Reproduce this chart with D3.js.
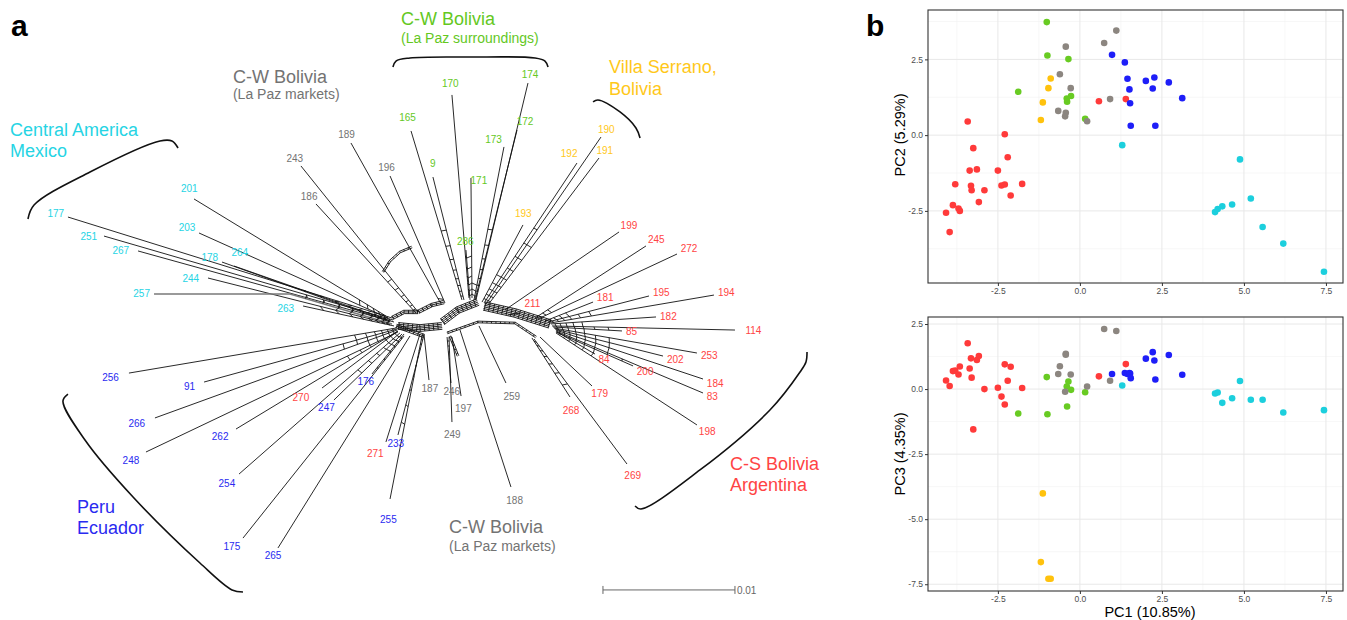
<!DOCTYPE html>
<html>
<head>
<meta charset="utf-8">
<script src="https://cdn.jsdelivr.net/npm/d3@7"></script>
<style>
  body { margin: 0; background: #fff; }
  svg { display: block; font-family: "Liberation Sans", Arial, sans-serif; }
</style>
</head>
<body>
<svg id="fig" width="1347" height="620"></svg>
<script>
// ---------- panel a: splits network ----------
// coordinates in units of 1e-4 substitutions/site (100 units = the 0.01 scale bar)

const groupColor = { CAM: '#26d4e4', LPM: '#737373', LPS: '#64c81e', VS: '#ffc81a', CSB: '#ff4444', PE: '#2a2af0' };

// label, group, tipX, tipY, baseX, baseY
const leaves = [
  ['177', 'CAM', -297.0, -78.0, -51.5, -1.5],
  ['251', 'CAM', -269.7, -63.6, -50.8, 0],
  ['267', 'CAM', -243.9, -52.3, -50.0, 1.5],
  ['201', 'CAM', -201.5, -91.7, -56.1, -3.0],
  ['203', 'CAM', -197.7, -65.9, -54.5, -1.5],
  ['178', 'CAM', -180.3, -43.9, -53.0, 1.5],
  ['264', 'CAM', -171.2, -40.9, -54.5, 0],
  ['244', 'CAM', -190.9, -31.8, -53.0, 3.0],
  ['257', 'CAM', -231.8, -19.7, -51.5, 3.0],
  ['263', 'CAM', -118.9, -10.6, -50.0, 4.5],
  ['243', 'LPM', -120.5, -116.7, -31.8, -6.1],
  ['186', 'LPM', -109.1, -87.9, -33.3, -5.3],
  ['189', 'LPM', -82.6, -134.1, -15.2, -13.6],
  ['196', 'LPM', -53.0, -109.1, -11.4, -12.9],
  ['165', 'LPS', -37.1, -143.2, 1.5, -15.2],
  ['9',   'LPS', -20.5, -108.3, 3.0, -15.2],
  ['170', 'LPS', -6.1, -170.5, 6.8, -16.7],
  ['171', 'LPS', 8.3, -107.6, 9.1, -16.7],
  ['286', 'LPS', 4.5, -53.0, 7.6, -15.2],
  ['173', 'LPS', 33.3, -131.1, 10.6, -15.2],
  ['172', 'LPS', 43.2, -143.9, 11.4, -15.2],
  ['174', 'LPS', 51.5, -179.5, 12.1, -15.2],
  ['193', 'VS', 47.7, -72.0, 16.7, -13.6],
  ['192', 'VS', 88.6, -118.9, 18.2, -12.9],
  ['190', 'VS', 106.8, -138.6, 19.7, -12.1],
  ['191', 'VS', 105.3, -122.7, 21.2, -11.4],
  ['199', 'CSB', 120.5, -66.7, 34.1, -7.6],
  ['211', 'CSB', 45.5, -5.3, 36.4, -3.8],
  ['245', 'CSB', 140.9, -56.1, 56.8, -1.5],
  ['272', 'CSB', 164.4, -50.0, 59.1, -0.8],
  ['181', 'CSB', 100.8, -13.6, 64.4, 0.8],
  ['195', 'CSB', 143.2, -18.2, 66.7, 1.5],
  ['194', 'CSB', 192.4, -18.9, 68.2, 2.3],
  ['182', 'CSB', 148.5, -2.3, 68.9, 3.0],
  ['114', 'CSB', 208.3, 7.6, 69.7, 4.5],
  ['85',  'CSB', 122.7, 8.3, 70.5, 5.3],
  ['253', 'CSB', 179.5, 25.0, 71.2, 6.1],
  ['202', 'CSB', 153.8, 27.3, 72.0, 6.8],
  ['184', 'CSB', 184.1, 44.7, 72.7, 7.6],
  ['83',  'CSB', 184.1, 55.3, 72.7, 8.3],
  ['200', 'CSB', 131.1, 34.8, 72.7, 9.1],
  ['84',  'CSB', 102.3, 25.8, 73.5, 9.1],
  ['198', 'CSB', 179.5, 79.5, 72.7, 9.8],
  ['179', 'CSB', 100.0, 50.0, 60.6, 12.9],
  ['268', 'CSB', 83.3, 58.3, 54.5, 13.6],
  ['269', 'CSB', 126.5, 109.1, 56.1, 14.4],
  ['270', 'CSB', -104.5, 51.5, -47.0, 8.3],
  ['271', 'CSB', -56.1, 92.4, -30.3, 10.6],
  ['187', 'LPM', -23.5, 45.5, -27.3, 10.6],
  ['246', 'LPM', -6.8, 47.7, -9.8, 12.9],
  ['197', 'LPM', 0.8, 57.6, -6.1, 12.9],
  ['249', 'LPM', -6.1, 77.3, -8.3, 12.9],
  ['259', 'LPM', 34.8, 47.7, 14.4, 4.5],
  ['188', 'LPM', 38.6, 126.5, 0, 7.6],
  ['256', 'PE', -250.8, 40.2, -48.5, 6.1],
  ['91',  'PE', -193.9, 47.0, -47.7, 6.8],
  ['266', 'PE', -231.1, 74.2, -47.7, 7.6],
  ['262', 'PE', -169.7, 82.6, -47.0, 8.3],
  ['248', 'PE', -237.9, 100.0, -47.0, 9.1],
  ['254', 'PE', -167.4, 116.7, -45.5, 9.8],
  ['247', 'PE', -95.5, 60.6, -43.9, 10.6],
  ['176', 'PE', -66.7, 40.9, -42.4, 10.6],
  ['175', 'PE', -164.4, 165.2, -42.4, 12.1],
  ['265', 'PE', -137.9, 172.7, -37.9, 12.1],
  ['255', 'PE', -53.0, 135.6, -28.8, 12.1],
  ['233', 'PE', -47.0, 87.1, -27.3, 11.4]
];

// bend points on a few pendant edges
const leafVia = { '257': [-128.8, -19.7] };

// reticulate core: polylines drawn as bundles of parallel splits
const coreWebs = [
  { pts: [[-47.0, 4.5], [-30.3, 6.1], [-13.6, 4.5]], n: 5 },
  { pts: [[-13.6, 1.5], [-1.5, -7.6], [13.6, -13.6]], n: 5 },
  { pts: [[18.2, -10.6], [41.7, -5.3], [68.2, 3.0]], n: 6 },
  { pts: [[-9.8, 9.8], [13.6, 1.5], [41.7, 2.3], [57.6, 12.9]], n: 2 },
  { pts: [[-31.8, -6.1], [-21.2, -11.4], [-12.1, -13.6]], n: 3 },
  { pts: [[-58.3, -36.4], [-53.0, -44.7], [-45.5, -51.5], [-36.4, -55.3]], n: 2 },
  { pts: [[-51.5, -1.5], [-42.4, -6.1], [-31.8, -6.1]], n: 3 },
  { pts: [[-48.5, 4.5], [-27.3, 12.1]], n: 3 },
  { pts: [[-7.6, 12.1], [-1.5, 27.3]], n: 2 }
];

// group brackets and titles
const brackets = [
  [[-327.3, -76.5], [-322.7, -87.1], [-280.3, -112.1], [-227.3, -135.6], [-218.2, -135.6], [-213.6, -130.3]],
  [[-50.8, -191.7], [-48.5, -196.2], [-37.9, -198.5], [7.6, -199.2], [56.8, -198.5], [64.4, -196.2], [66.7, -191.7]],
  [[100.8, -165.2], [104.5, -166.7], [121.2, -157.6], [133.3, -145.5], [136.4, -137.9]],
  [[132.6, 140.9], [137.1, 143.2], [181.8, 113.6], [234.8, 68.2], [257.6, 39.4], [262.1, 31.8], [262.9, 24.2]],
  [[-297.0, 56.1], [-300.8, 61.4], [-284.1, 90.9], [-247.7, 134.1], [-197.0, 184.1], [-172.7, 204.5], [-164.4, 206.1]]
];

// group, title, subtitle, x, titleY, subtitleY
const groupTitles = [
  ['CAM', 'Central America', 'Mexico', -340.9, -139.4, -123.5],
  ['LPM', 'C-W Bolivia', '(La Paz markets)', -172.0, -179.5, -167.4],
  ['LPS', 'C-W Bolivia', '(La Paz surroundings)', -44.7, -223.5, -209.9],
  ['VS', 'Villa Serrano,', 'Bolivia', 112.9, -187.1, -170.5],
  ['CSB', 'C-S Bolivia', 'Argentina', 204.5, 113.6, 129.5],
  ['PE', 'Peru', 'Ecuador', -290.2, 146.2, 162.1],
  ['LPM', 'C-W Bolivia', '(La Paz markets)', -8.3, 161.4, 175.0]
];
const bigLine = { CAM: true, VS: true, CSB: true, PE: true };

const scaleBar = { x: 108.3, y: 204.5, len: 100, text: '0.01' };

// label placement tweaks (px)
const labelNudge = {
  '211': [0, -7], '270': [-12, 3], '271': [-8, 3], '255': [0, 12], '197': [1, 4], '249': [0, 4],
  '259': [2, 5], '188': [1, 5], '268': [-4, 6], '269': [0, 4], '114': [6, 0], '193': [-4, -3],
  '192': [-13, -2], '172': [6, 0], '173': [-12, 1], '171': [8, 11], '9': [2, -5], '165': [-1, -5],
  '170': [-1, -3], '201': [6, -4], '264': [18, -9], '244': [-5, 4], '263': [-5, 5], '251': [-3, 4],
  '267': [-5, 3], '256': [-6, 2], '91': [-5, 2], '266': [-6, 1], '262': [-5, 1], '248': [-3, 3],
  '254': [-4, 2], '175': [-5, 1]
};

// ---------- panel b: PCA (PC1, PC2, PC3) ----------
const pcaCSB = [[-4.08, -2.56, 0.33], [-3.97, -3.20, 0.12], [-3.87, -2.31, 0.69], [-3.80, -1.62, 0.71],
  [-3.70, -2.42, 0.56], [-3.66, -2.50, 0.87], [-3.42, 0.45, 1.76], [-3.36, -1.17, 0.79], [-3.32, -1.67, 1.18],
  [-3.30, -1.82, 0.44], [-3.25, -0.43, -1.55], [-3.14, -1.13, 1.12], [-3.08, -2.21, 1.27], [-2.91, -1.82, 0.0],
  [-2.50, -1.17, 0.05], [-2.39, -1.66, -0.29], [-2.29, 0.03, 0.95], [-2.29, -1.63, -0.59], [-2.20, -0.73, 0.32],
  [-2.11, -1.99, 0.86], [-1.76, -1.61, 0.04], [0.58, 1.12, 0.49], [1.40, 1.19, 0.96]];
const pcaLPS = [[-1.01, 3.73, 0.46], [-0.99, 2.63, -0.97], [-0.35, 2.51, 0.29], [-1.88, 1.43, -0.94],
  [-0.40, 1.21, 0.10], [-0.27, 1.29, -0.03], [-0.39, 1.10, -0.67], [0.16, 0.54, -0.12]];
const pcaLPM = [[-0.43, 2.92, 1.36], [0.74, 3.04, 2.31], [1.11, 3.45, 2.23], [-0.61, 2.01, 0.88],
  [-0.28, 1.55, 0.56], [0.92, 1.19, 0.32], [-0.66, 0.80, 0.58], [-0.43, 0.74, 1.32], [-0.45, 0.62, -0.10],
  [0.22, 0.46, 0.10]];
const pcaVS = [[-0.89, 1.87, -7.29], [-0.96, 1.55, -7.29], [-1.13, 1.08, -4.01], [-1.19, 0.50, -6.65]];
const pcaPE = [[0.98, 2.65, 0.58], [1.37, 2.40, 0.62], [1.45, 1.86, 0.58], [2.01, 1.79, 1.17], [2.27, 1.90, 1.10],
  [2.71, 1.74, 1.31], [1.51, 1.51, 0.62], [2.22, 1.54, 1.42], [3.12, 1.22, 0.55], [1.53, 1.05, 0.60],
  [1.55, 0.31, 0.42], [2.30, 0.31, 0.37]];
const pcaCAM = [[1.29, -0.33, 0.14], [4.88, -0.80, 0.31], [5.21, -2.09, -0.41], [5.57, -3.03, -0.41],
  [6.20, -3.58, -0.90], [7.44, -4.51, -0.81], [4.12, -2.54, -0.17], [4.20, -2.44, -0.13], [4.34, -2.35, -0.53],
  [4.64, -2.29, -0.35]];
const pcaSets = [['CSB', pcaCSB], ['LPS', pcaLPS], ['LPM', pcaLPM], ['VS', pcaVS], ['PE', pcaPE], ['CAM', pcaCAM]];
const pointColor = { CAM: '#1ccfdd', LPM: '#8c8680', LPS: '#68cb22', VS: '#ffc20d', CSB: '#ff3a3a', PE: '#1e1ef8' };

const pcTicks = [-2.5, 0, 2.5, 5, 7.5];
const pc2Ticks = [-2.5, 0, 2.5];
const pc3Ticks = [-7.5, -5, -2.5, 0, 2.5];

// ================= drawing =================
const svg = d3.select('#fig');

const nx = d3.scaleLinear().domain([0, 100]).range([460, 592]);
const ny = d3.scaleLinear().domain([0, 100]).range([320, 452]);
const P = d => [nx(d[0]), ny(d[1])];
const line = d3.line();

const gNet = svg.append('g').attr('fill', 'none').attr('stroke', '#111').attr('stroke-width', 0.9);

function offsetLine(pts, k) {
  return pts.map((p, i) => {
    const a = pts[Math.max(i - 1, 0)], b = pts[Math.min(i + 1, pts.length - 1)];
    const dx = b[0] - a[0], dy = b[1] - a[1], L = Math.hypot(dx, dy) || 1;
    return [p[0] - dy / L * k, p[1] + dx / L * k];
  });
}

function sampleLine(pts, step) {
  const out = [];
  for (let i = 0; i < pts.length - 1; i++) {
    const a = pts[i], b = pts[i + 1];
    const dx = b[0] - a[0], dy = b[1] - a[1], L = Math.hypot(dx, dy);
    for (let s = (i === 0 ? 1 : 0); s < L; s += step) {
      out.push({ p: [a[0] + dx * s / L, a[1] + dy * s / L], n: [-dy / L, dx / L] });
    }
  }
  return out;
}

// core webs
const gap = 1.7;
coreWebs.forEach(w => {
  const pts = w.pts.map(P);
  const half = (w.n - 1) / 2 * gap;
  for (let i = 0; i < w.n; i++) {
    gNet.append('path').attr('d', line(offsetLine(pts, -half + i * gap)));
  }
  sampleLine(pts, 4.5).forEach(s => {
    gNet.append('line')
      .attr('x1', s.p[0] - s.n[0] * half).attr('y1', s.p[1] - s.n[1] * half)
      .attr('x2', s.p[0] + s.n[0] * half).attr('y2', s.p[1] + s.n[1] * half);
  });
});

// pendant edges
const leafGeom = leaves.map(([lab, grp, tx, ty, bx, by]) => {
  const pts = [[tx, ty]];
  if (leafVia[lab]) pts.push(leafVia[lab]);
  pts.push([bx, by]);
  const px = pts.map(P);
  const base = px[px.length - 1], next = px[px.length - 2];
  const dx = next[0] - base[0], dy = next[1] - base[1], L = Math.hypot(dx, dy);
  return { lab, grp, px, base, u: [dx / L, dy / L], len: L, ang: Math.atan2(dy, dx) };
});

leafGeom.forEach(l => {
  gNet.append('path').attr('d', line(l.px))
    .attr('stroke', l.lab === '257' ? '#7a7a7a' : null)
    .attr('stroke-width', l.lab === '257' ? 1.4 : null);
});

// ladder rungs between neighbouring edges of one group (splits look)
const rungDist = [4, 9, 15, 22, 31, 42, 56, 72, 90];
d3.groups(leafGeom, d => d.grp).forEach(([, ls]) => {
  ls.sort((a, b) => a.ang - b.ang);
  for (let i = 0; i < ls.length - 1; i++) {
    const a = ls[i], b = ls[i + 1];
    rungDist.forEach(d => {
      if (d > a.len || d > b.len) return;
      const pa = [a.base[0] + a.u[0] * d, a.base[1] + a.u[1] * d];
      const pb = [b.base[0] + b.u[0] * d, b.base[1] + b.u[1] * d];
      const dist = Math.hypot(pa[0] - pb[0], pa[1] - pb[1]);
      if (dist > 0.8 && dist < 5.5) {
        gNet.append('line').attr('x1', pa[0]).attr('y1', pa[1]).attr('x2', pb[0]).attr('y2', pb[1]);
      }
    });
  }
});

// leaf labels
const gLab = svg.append('g').attr('font-size', 10).attr('text-anchor', 'middle');
leafGeom.forEach(l => {
  const tip = l.px[0], prev = l.px[1];
  let ux = tip[0] - prev[0], uy = tip[1] - prev[1];
  const L = Math.hypot(ux, uy); ux /= L; uy /= L;
  const hw = l.lab.length * 2.8, hh = 4.5;
  const d = Math.min(Math.abs(ux) > 1e-6 ? hw / Math.abs(ux) : 1e9, Math.abs(uy) > 1e-6 ? hh / Math.abs(uy) : 1e9) + 4;
  const nud = labelNudge[l.lab] || [0, 0];
  gLab.append('text')
    .attr('x', tip[0] + ux * d + nud[0])
    .attr('y', tip[1] + uy * d + nud[1])
    .attr('dy', '0.35em')
    .attr('fill', groupColor[l.grp])
    .text(l.lab);
});

// brackets
const curve = d3.line().curve(d3.curveCatmullRom.alpha(0.5));
svg.append('g').attr('fill', 'none').attr('stroke', '#111').attr('stroke-width', 1.6)
  .selectAll('path').data(brackets).join('path')
  .attr('d', b => curve(b.map(P)));

// group titles
const gTitle = svg.append('g');
groupTitles.forEach(([grp, t1, t2, x, y1, y2]) => {
  const big = bigLine[grp];
  gTitle.append('text').attr('x', nx(x)).attr('y', ny(y1))
    .attr('font-size', 18).attr('fill', groupColor[grp]).text(t1);
  gTitle.append('text').attr('x', nx(x)).attr('y', ny(y2))
    .attr('font-size', big ? 18 : 14).attr('fill', groupColor[grp]).text(t2);
});

// scale bar
const sb = svg.append('g').attr('stroke', '#666').attr('stroke-width', 1);
const sbx0 = nx(scaleBar.x), sbx1 = nx(scaleBar.x + scaleBar.len), sby = ny(scaleBar.y);
sb.append('line').attr('x1', sbx0).attr('x2', sbx1).attr('y1', sby).attr('y2', sby);
sb.append('line').attr('x1', sbx0).attr('x2', sbx0).attr('y1', sby - 4).attr('y2', sby + 4);
sb.append('line').attr('x1', sbx1).attr('x2', sbx1).attr('y1', sby - 4).attr('y2', sby + 4);
svg.append('text').attr('x', sbx1 + 2).attr('y', sby + 4).attr('font-size', 10).attr('fill', '#666').text(scaleBar.text);

// panel letters
svg.append('text').attr('x', 11).attr('y', 36).attr('font-size', 30).attr('font-weight', 'bold').text('a');
svg.append('text').attr('x', 866).attr('y', 36).attr('font-size', 30).attr('font-weight', 'bold').text('b');

// ---------- PCA panels ----------
const px1 = d3.scaleLinear().domain([-4.63, 8.02]).range([928, 1343]);
const pxMinor = [-3.75, -1.25, 1.25, 3.75, 6.25];

function pcaPanel(yScale, key, yTicks, yMinor, yTitle, titleY) {
  const [y0, y1] = yScale.range();
  const g = svg.append('g');
  const x0 = px1.range()[0], x1 = px1.range()[1];
  // grid
  g.selectAll('.vmin').data(pxMinor).join('line').attr('class', 'vmin')
    .attr('x1', px1).attr('x2', px1).attr('y1', y1).attr('y2', y0)
    .attr('stroke', '#f2f2f2').attr('stroke-width', 0.6);
  g.selectAll('.hmin').data(yMinor).join('line').attr('class', 'hmin')
    .attr('x1', x0).attr('x2', x1).attr('y1', yScale).attr('y2', yScale)
    .attr('stroke', '#f2f2f2').attr('stroke-width', 0.6);
  g.selectAll('.vmaj').data(pcTicks).join('line').attr('class', 'vmaj')
    .attr('x1', px1).attr('x2', px1).attr('y1', y1).attr('y2', y0)
    .attr('stroke', '#e8e8e8').attr('stroke-width', 1);
  g.selectAll('.hmaj').data(yTicks).join('line').attr('class', 'hmaj')
    .attr('x1', x0).attr('x2', x1).attr('y1', yScale).attr('y2', yScale)
    .attr('stroke', '#e8e8e8').attr('stroke-width', 1);

  // points
  pcaSets.forEach(([grp, arr]) => {
    g.append('g').selectAll('circle').data(arr).join('circle')
      .attr('cx', d => px1(d[0])).attr('cy', d => yScale(d[key]))
      .attr('r', 3.3).attr('fill', pointColor[grp]);
  });

  // border
  g.append('rect').attr('x', x0).attr('y', y1).attr('width', x1 - x0).attr('height', y0 - y1)
    .attr('fill', 'none').attr('stroke', '#333').attr('stroke-width', 1.1);

  // axes
  const ax = g.append('g').attr('transform', `translate(0,${y0})`)
    .call(d3.axisBottom(px1).tickValues(pcTicks).tickFormat(d => d.toFixed(1)).tickSize(3).tickPadding(2));
  const ay = g.append('g').attr('transform', `translate(${x0},0)`)
    .call(d3.axisLeft(yScale).tickValues(yTicks).tickFormat(d => d.toFixed(1)).tickSize(3).tickPadding(2));
  [ax, ay].forEach(a => {
    a.select('.domain').remove();
    a.selectAll('line').attr('stroke', '#333');
    a.selectAll('text').attr('fill', '#4d4d4d').attr('font-size', 8.5)
      .attr('font-family', '"Liberation Sans", Arial, sans-serif');
  });

  svg.append('text').attr('transform', `translate(905,${titleY}) rotate(-90)`)
    .attr('text-anchor', 'middle').attr('font-size', 14.5).text(yTitle);
}

const pc2 = d3.scaleLinear().domain([-4.88, 4.13]).range([283, 10]);
const pc3 = d3.scaleLinear().domain([-7.76, 2.77]).range([591, 317]);
pcaPanel(pc2, 1, pc2Ticks, [-3.75, -1.25, 1.25, 3.75], 'PC2 (5.29%)', 135);
pcaPanel(pc3, 2, pc3Ticks, [-6.25, -3.75, -1.25, 1.25], 'PC3 (4.35%)', 454);
svg.append('text').attr('x', 1150).attr('y', 617).attr('text-anchor', 'middle')
  .attr('font-size', 14.5).text('PC1 (10.85%)');
</script>
</body>
</html>
